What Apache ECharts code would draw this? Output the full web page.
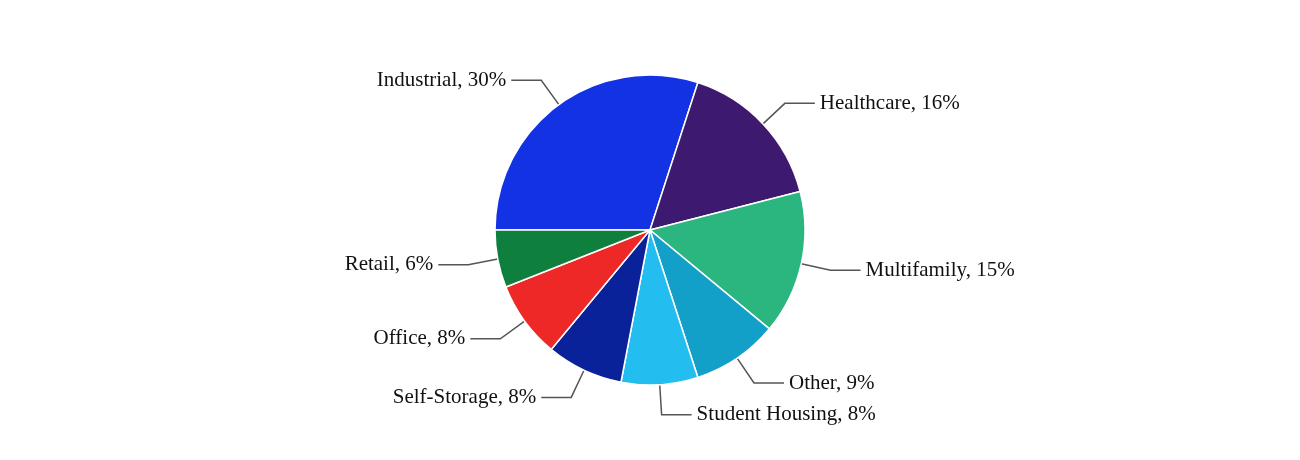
<!DOCTYPE html>
<html><head><meta charset="utf-8">
<script src="https://cdn.jsdelivr.net/npm/echarts@6/dist/echarts.min.js"></script>
<style>html,body{margin:0;background:#fff}#c{width:1300px;height:460px}</style>
</head><body><div id="c"></div>
<script>
const categories = ["Industrial","Healthcare","Multifamily","Other","Student Housing","Self-Storage","Office","Retail"];
const values = [30,16,15,9,8,8,8,6];
const colors = ["#1232e3","#3d196f","#2bb67f","#13a0c8","#24bdef","#0a2299","#ee2827","#0f7f3e"];
const chart = echarts.init(document.getElementById('c'));
chart.setOption({
  animation:false,
  series:[{
    type:'pie', center:[650,230], radius:155, startAngle:180, clockwise:true,
    data: categories.map((n,i)=>({name:n,value:values[i],itemStyle:{color:colors[i]}})),
    itemStyle:{borderColor:'#fff',borderWidth:1.5},
    label:{formatter:'{b}, {c}%', fontFamily:'Liberation Serif', fontSize:21, color:'#111'},
    labelLine:{length:30,length2:30,lineStyle:{color:'#555',width:1.5}}
  }]
});
</script></body></html>
